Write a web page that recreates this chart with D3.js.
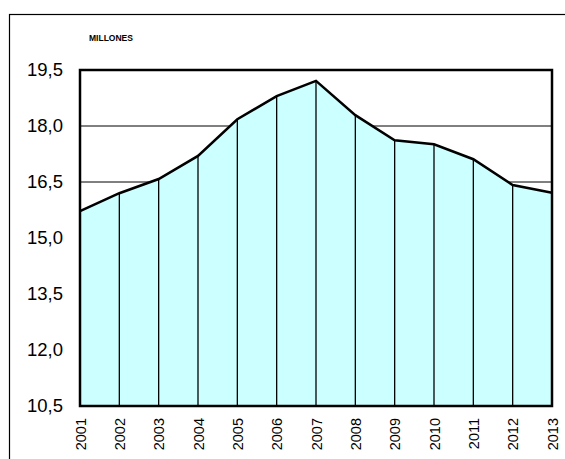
<!DOCTYPE html>
<html><head><meta charset="utf-8">
<script src="https://cdn.jsdelivr.net/npm/d3@7"></script>
<style>body{margin:0;background:#fff}svg{display:block}</style>
</head><body>
<script>
const years = ["2001","2002","2003","2004","2005","2006","2007","2008","2009","2010","2011","2012","2013"];
const values = [15.72, 16.2, 16.58, 17.2, 18.18, 18.8, 19.21, 18.29, 17.62, 17.51, 17.11, 16.42, 16.21];
const yTicks = [10.5, 12.0, 13.5, 15.0, 16.5, 18.0, 19.5];
const unitLabel = "MILLONES";

const W = 565, H = 459;
const svg = d3.select("body").append("svg").attr("width", W).attr("height", H);
svg.append("rect").attr("x", 9.5).attr("y", 14.5).attr("width", 600).attr("height", 500)
  .attr("fill", "#fff").attr("stroke", "#000").attr("stroke-width", 1.2);

const L = 80, R = 552, T = 70, B = 406;
const x = d3.scalePoint().domain(years).range([L, R]);
const y = d3.scaleLinear().domain([10.5, 19.5]).range([B, T]);

svg.append("g").selectAll("line").data(yTicks.slice(1, -1)).join("line")
  .attr("x1", L).attr("x2", R).attr("y1", d => y(d)).attr("y2", d => y(d))
  .attr("stroke", "#000").attr("stroke-width", 1);

const data = years.map((yr, i) => ({yr, v: values[i]}));
svg.append("path").datum(data)
  .attr("d", d3.area().x(d => x(d.yr)).y0(B).y1(d => y(d.v)))
  .attr("fill", "#ccffff");

svg.append("g").selectAll("line").data(data.slice(1, -1)).join("line")
  .attr("x1", d => x(d.yr)).attr("x2", d => x(d.yr))
  .attr("y1", B).attr("y2", d => y(d.v))
  .attr("stroke", "#000").attr("stroke-width", 1.3);

svg.append("path").datum(data)
  .attr("d", d3.line().x(d => x(d.yr)).y(d => y(d.v)))
  .attr("fill", "none").attr("stroke", "#000").attr("stroke-width", 2.5).attr("stroke-linejoin", "miter");

svg.append("rect").attr("x", L).attr("y", T).attr("width", R - L).attr("height", B - T)
  .attr("fill", "none").attr("stroke", "#000").attr("stroke-width", 2.5);

const yAxis = d3.axisLeft(y).tickValues(yTicks).tickSize(0).tickPadding(17)
  .tickFormat(d => d3.format(".1f")(d).replace(".", ","));
const gy = svg.append("g").attr("transform", `translate(${L},0)`).call(yAxis);
gy.select(".domain").remove();
gy.selectAll("text").attr("font-family", "Liberation Sans, Arial, sans-serif").attr("font-size", 18.5).attr("fill", "#000");

const xAxis = d3.axisBottom(x).tickSize(0).tickPadding(0);
const gx = svg.append("g").attr("transform", `translate(0,${B})`).call(xAxis);
gx.select(".domain").remove();
gx.selectAll("text")
  .attr("font-family", "Liberation Sans, Arial, sans-serif").attr("font-size", 14.5).attr("fill", "#000")
  .attr("transform", "rotate(-90)").attr("text-anchor", "end")
  .attr("x", -12).attr("y", 0).attr("dy", "0.35em");

svg.append("text").attr("x", 111).attr("y", 41).attr("text-anchor", "middle")
  .attr("font-family", "Liberation Sans, Arial, sans-serif").attr("font-size", 8.5).attr("font-weight", "bold")
  .text(unitLabel);
</script>
</body></html>
